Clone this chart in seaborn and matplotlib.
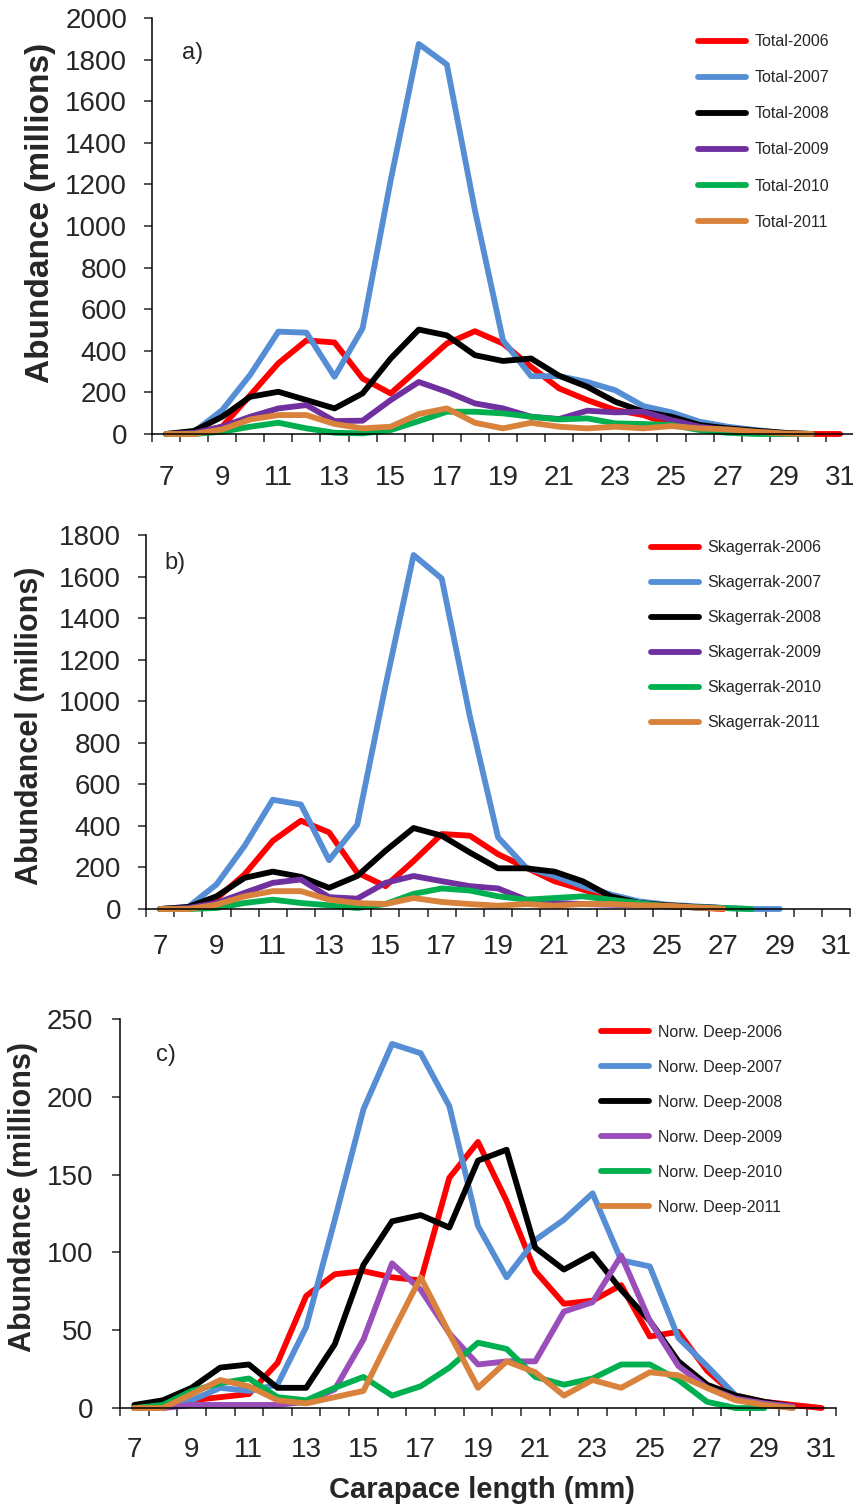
import numpy as np
import pandas as pd
import seaborn as sns
import matplotlib.pyplot as plt

# carapace length classes (mm)
lengths = list(range(7, 32))
years = ["2006", "2007", "2008", "2009", "2010", "2011"]

# a) Total
total_2006 = [0, 3, 35, 187, 340, 450, 440, 267, 195, 315, 435, 494, 435, 323, 219, 163, 115, 91, 43, 27, 19, 6, 0, 0, 0]
total_2007 = [0, 10, 115, 285, 492, 487, 275, 508, 1220, 1875, 1776, 1075, 450, 278, 278, 250, 210, 134, 104, 59, 35, 19, 5, 0]
total_2008 = [0, 15, 83, 179, 203, 163, 123, 195, 363, 502, 474, 379, 351, 363, 280, 227, 155, 107, 83, 43, 27, 16, 6, 0]
total_2009 = [0, 5, 35, 83, 123, 139, 62, 64, 163, 250, 203, 147, 123, 83, 72, 112, 104, 107, 67, 35, 19, 8, 0, 0]
total_2010 = [0, 0, 11, 35, 54, 27, 6, 3, 19, 62, 107, 107, 99, 83, 70, 75, 51, 48, 43, 19, 6, 0, 0, 0]
total_2011 = [0, 0, 22, 70, 91, 91, 48, 27, 35, 96, 123, 54, 27, 54, 35, 27, 35, 27, 38, 27, 22, 11, 3, 0]

# b) Skagerrak
skag_2006 = [0, 5, 50, 167, 328, 425, 369, 175, 110, 231, 361, 353, 264, 199, 134, 94, 53, 29, 18, 8, 0]
skag_2007 = [0, 10, 118, 304, 526, 503, 235, 406, 1073, 1704, 1591, 927, 345, 199, 159, 110, 70, 37, 21, 13, 5, 0, 0]
skag_2008 = [0, 10, 61, 150, 180, 155, 102, 159, 280, 390, 353, 272, 196, 196, 180, 134, 61, 29, 18, 10, 5]
skag_2009 = [0, 5, 29, 78, 126, 142, 57, 50, 126, 159, 134, 110, 99, 45, 29, 24, 21, 18, 13, 8, 5]
skag_2010 = [0, 0, 5, 29, 45, 29, 18, 5, 24, 73, 99, 89, 61, 45, 53, 61, 45, 29, 13, 8, 5, 0]
skag_2011 = [0, 0, 21, 61, 86, 86, 45, 29, 24, 53, 34, 24, 16, 24, 16, 24, 24, 18, 16, 8, 2]

# c) Norwegian Deep
norw_2006 = [0, 0, 5, 7, 9, 29, 72, 86, 88, 84, 82, 148, 171, 133, 88, 67, 69, 79, 46, 49, 24, 8, 4, 2, 0]
norw_2007 = [0, 0, 5, 13, 11, 15, 52, 121, 192, 234, 228, 194, 117, 84, 108, 121, 138, 95, 91, 45, 27, 8, 3, 0]
norw_2008 = [2, 5, 13, 26, 28, 13, 13, 41, 92, 120, 124, 116, 159, 166, 103, 89, 99, 76, 56, 30, 15, 8, 4, 1]
norw_2009 = [0, 0, 2, 2, 2, 2, 4, 12, 44, 93, 76, 48, 28, 30, 30, 62, 68, 98, 56, 27, 13, 6, 3, 1]
norw_2010 = [0, 2, 11, 16, 19, 7, 5, 13, 20, 8, 14, 26, 42, 38, 20, 15, 19, 28, 28, 18, 4, 0, 0]
norw_2011 = [0, 0, 9, 18, 14, 5, 3, 7, 11, 48, 84, 48, 13, 30, 23, 8, 18, 13, 23, 21, 13, 5, 2, 0]

colors_ab = ["#FF0000", "#558ED5", "#000000", "#7030A0", "#00B050", "#D9823B"]
colors_c = ["#FF0000", "#558ED5", "#000000", "#9A4EBA", "#00B050", "#D9823B"]

panels = [
    dict(prefix="Total", series=[total_2006, total_2007, total_2008, total_2009, total_2010, total_2011],
         colors=colors_ab, ymax=2000, ystep=200, ylabel="Abundance (millions)", letter="a)",
         rect=[0.1780, 0.7124, 0.8220, 0.2757], ylab_pos=(-0.159, 0.531), ylab_size=24,
         letter_pos=(0.058, 0.916), leg_pos=(0.778, 0.961), leg_space=1.32, ypad=12, xpad=22),
    dict(prefix="Skagerrak", series=[skag_2006, skag_2007, skag_2008, skag_2009, skag_2010, skag_2011],
         colors=colors_ab, ymax=1800, ystep=200, ylabel="Abundancel (millions)", letter="b)",
         rect=[0.1710, 0.3976, 0.8244, 0.2478], ylab_pos=(-0.165, 0.49), ylab_size=22,
         letter_pos=(0.041, 0.925), leg_pos=(0.717, 0.986), leg_space=1.25, ypad=12, xpad=18),
    dict(prefix="Norw. Deep", series=[norw_2006, norw_2007, norw_2008, norw_2009, norw_2010, norw_2011],
         colors=colors_c, ymax=250, ystep=50, ylabel="Abundance (millions)", letter="c)",
         rect=[0.1405, 0.0669, 0.8384, 0.2578], ylab_pos=(-0.135, 0.542), ylab_size=22,
         letter_pos=(0.064, 0.907), leg_pos=(0.672, 0.985), leg_space=1.25, ypad=13.5, xpad=21),
]

sns.set_style("ticks")
plt.rcParams['font.family'] = ['Liberation Sans', 'DejaVu Sans']

fig = plt.figure(figsize=(8.54, 15.09), dpi=100)

for p in panels:
    ax = fig.add_axes(p["rect"])
    names = [f"{p['prefix']}-{y}" for y in years]
    frames = []
    for name, vals in zip(names, p["series"]):
        frames.append(pd.DataFrame({"length": lengths[:len(vals)], "abundance": vals, "series": name}))
    df = pd.concat(frames, ignore_index=True)

    sns.lineplot(data=df, x="length", y="abundance", hue="series", hue_order=names,
                 palette=dict(zip(names, p["colors"])), estimator=None, sort=False,
                 linewidth=4.2, legend=False, ax=ax, clip_on=False,
                 solid_capstyle="round", solid_joinstyle="round")

    ax.set_xlim(6.5, 31.5)
    ax.set_ylim(0, p["ymax"])
    ax.set_xlabel("")
    ax.set_ylabel("")
    sns.despine(ax=ax)
    for s in ["left", "bottom"]:
        ax.spines[s].set_linewidth(1.1)
        ax.spines[s].set_color("black")

    # category axis: ticks between classes, labels on odd classes
    ax.set_xticks(np.arange(6.5, 32, 1))
    ax.set_xticklabels([])
    ax.set_xticks(lengths[::2], minor=True)
    ax.set_xticklabels([str(v) for v in lengths[::2]], minor=True, fontsize=20)
    ax.tick_params(axis="x", which="major", length=6, width=1.1, direction="out")
    ax.tick_params(axis="x", which="minor", length=0, pad=p["xpad"])
    yt = np.arange(0, p["ymax"] + 1, p["ystep"])
    ax.set_yticks(yt)
    ax.set_yticklabels([str(v) for v in yt], fontsize=20)
    ax.tick_params(axis="y", length=6, width=1.1, direction="out", pad=p["ypad"])

    ax.text(p["ylab_pos"][0], p["ylab_pos"][1], p["ylabel"], rotation=90, ha="center", va="center",
            fontsize=p["ylab_size"], fontweight="bold", transform=ax.transAxes)
    ax.text(p["letter_pos"][0], p["letter_pos"][1], p["letter"], ha="center", va="center",
            fontsize=17, transform=ax.transAxes)

    ax.legend(handles=ax.lines[:6], labels=names, loc="upper left", bbox_to_anchor=p["leg_pos"],
              frameon=False, borderpad=0, borderaxespad=0, handlelength=3.0,
              handletextpad=0.55, labelspacing=p["leg_space"], fontsize=11.5)

    if p["letter"] == "c)":
        ax.text(0.506, -0.211, "Carapace length (mm)", ha="center", va="center",
                fontsize=21, fontweight="bold", transform=ax.transAxes)

fig.savefig("out.png", dpi=100)
